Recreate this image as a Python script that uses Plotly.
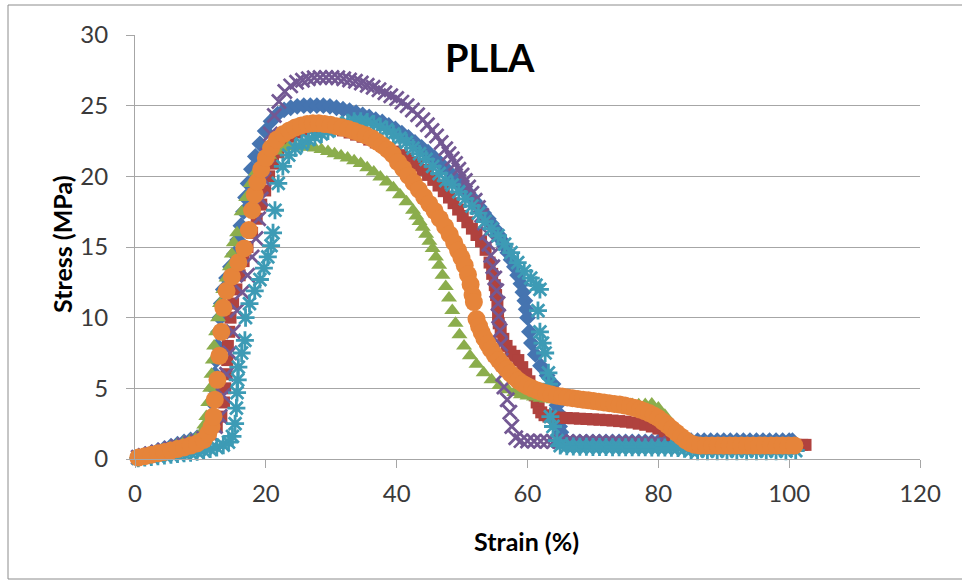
import plotly.graph_objects as go

# ---------------- data ----------------
blue_x = [-0.3, 0.5, 1.5, 2.5, 3.5, 4.5, 5.5, 6.5, 7.5, 8.5, 9.5, 10.3, 11.0,
          11.5, 11.8, 12.0, 12.2, 12.4, 12.6, 12.8, 13.0, 13.2, 13.5,
          14.0, 14.6, 15.2, 15.7, 16.2, 16.6, 16.9, 17.3, 17.8, 18.4,
          19.1, 19.9, 20.8, 21.8,
          22.8, 23.8, 24.8, 25.8, 26.8, 27.8, 28.8, 29.8, 30.8, 31.8,
          32.8, 33.8, 34.8, 35.8, 36.8, 37.8,
          38.8, 39.8, 40.8, 41.8, 42.8, 43.8, 44.8, 45.8, 46.8, 47.8, 48.8, 49.8,
          50.5, 51.2, 51.9, 52.6, 53.3, 54.0,
          54.5, 55.0, 55.5, 56.0, 56.5, 57.0, 57.5, 58.0, 58.5, 59.0,
          59.3, 59.6, 59.8, 60.0, 60.3, 60.6, 61.2, 62.0, 63.0, 63.9,
          64.1, 64.3, 64.5, 64.6, 64.8, 64.9, 65.1, 65.3,
          66, 67, 68, 69, 70, 71, 72, 73, 74, 75, 76, 77, 78, 79, 80, 81, 82, 83, 84, 85,
          86, 87, 88, 89, 90, 91, 92, 93, 94, 95, 96, 97, 98, 99, 100, 100.5]
blue_y = [0.0, 0.15, 0.3, 0.45, 0.6, 0.75, 0.9, 1.05, 1.2, 1.35, 1.5, 1.7, 2.2,
          3, 4, 5, 6, 7, 8, 9, 10, 11, 12,
          12.8, 13.6, 14.5, 15.5, 16.5, 17.5, 18.5, 19.5, 20.5, 21.4,
          22.3, 23.2, 23.9, 24.4,
          24.7, 24.85, 24.95, 25.0, 25.0, 25.0, 25.0, 24.95, 24.85, 24.75,
          24.65, 24.5, 24.35, 24.2, 24.0, 23.85,
          23.6, 23.35, 23.05, 22.75, 22.4, 22.05, 21.7, 21.3, 20.85, 20.4, 19.9, 19.4,
          19.05, 18.65, 18.25, 17.85, 17.4, 17.0,
          16.65, 16.3, 15.9, 15.5, 15.05, 14.6, 14.1, 13.6, 13.0, 12.4,
          11.8, 11.2, 10.6, 10.0, 9.0, 8.2, 7.4, 6.6, 5.9, 5.3,
          4.8, 4.3, 3.8, 3.3, 2.8, 2.3, 1.9, 1.5,
          1.2, 1.2, 1.2, 1.2, 1.2, 1.2, 1.2, 1.2, 1.2, 1.2, 1.2, 1.2, 1.2, 1.2, 1.2, 1.2, 1.2, 1.2, 1.25, 1.3,
          1.3, 1.3, 1.3, 1.3, 1.3, 1.3, 1.3, 1.3, 1.3, 1.3, 1.3, 1.3, 1.3, 1.3, 1.3, 1.3]

red_x = [-0.3, 0.5, 1.5, 2.5, 3.5, 4.5, 5.5, 6.5, 7.5, 8.5, 9.5, 10.5, 11.5, 12.5,
         13.2, 13.6, 13.8, 14.0, 14.1, 14.2, 14.4, 14.6, 15.0, 15.5,
         16.0, 16.6, 17.2, 17.9, 18.6, 19.3, 19.9, 20.5, 21.1, 21.9,
         22.8, 23.8, 24.8, 25.8, 26.8,
         27.8, 28.8, 29.8, 30.8, 31.8, 32.8, 33.8, 34.8, 35.8, 36.8, 37.8, 38.8, 39.8, 40.8,
         41.6, 42.4, 43.2, 44.0, 44.8, 45.6, 46.4, 47.2, 48.0,
         48.7, 49.4, 50.1, 50.8, 51.5, 52.2, 52.9, 53.6,
         54.2, 54.6, 55.0, 55.2, 55.4, 55.5, 55.6, 55.9, 56.3, 56.8,
         57.4, 58.0, 58.6, 59.2, 59.8, 60.3, 60.7, 61.1, 61.4, 61.7,
         62.1, 62.6, 63.2,
         64, 65, 66, 67, 68, 69, 70, 71, 72, 73, 74, 75, 76, 77, 78, 79, 80, 81, 82, 83, 84, 85,
         86, 87, 88, 89, 90, 91, 92, 93, 94, 95, 96, 97, 98, 99, 100, 101, 102, 102.5]
red_y = [0.0, 0.12, 0.25, 0.38, 0.5, 0.62, 0.75, 0.88, 1.0, 1.12, 1.25, 1.45, 1.75, 2.3,
         3.0, 4.0, 5.0, 6.0, 7.0, 8.0, 9.0, 10.0, 11.0, 12.0,
         13.0, 14.0, 15.0, 16.0, 17.0, 18.0, 19.0, 20.0, 20.9, 21.7,
         22.3, 22.8, 23.1, 23.3, 23.45,
         23.5, 23.5, 23.45, 23.35, 23.25, 23.1, 22.95, 22.8, 22.6, 22.4, 22.2, 22.0, 21.75, 21.5,
         21.25, 21.0, 20.75, 20.45, 20.1, 19.75, 19.35, 18.95, 18.5,
         18.1, 17.65, 17.2, 16.75, 16.3, 15.85, 15.4, 14.8,
         13.9, 13.1, 12.3, 11.6, 10.9, 10.2, 9.6, 9.0, 8.5, 8.0,
         7.6, 7.3, 7.0, 6.5, 6.0, 5.5, 5.0, 4.5, 4.0, 3.6,
         3.3, 3.1, 3.0,
         2.95, 2.93, 2.9, 2.88, 2.85, 2.83, 2.8, 2.78, 2.75, 2.72, 2.68, 2.64, 2.58, 2.5, 2.42, 2.3, 2.15, 1.95, 1.7, 1.45, 1.2, 1.05,
         1.0, 1.0, 1.0, 1.0, 1.0, 1.0, 1.0, 1.0, 1.0, 1.0, 1.0, 1.0, 1.0, 1.0, 1.0, 1.0, 1.0, 1.0]

green_x = [-0.3, 0.5, 1.5, 2.5, 3.5, 4.5, 5.5, 6.5, 7.5, 8.5, 9.5, 10.2, 10.6,
           10.9, 11.2, 11.5, 11.7, 11.9, 12.1, 12.4, 12.7, 13.0, 13.5,
           14.0, 14.5, 14.8, 15.1, 15.6, 16.3, 17.0, 17.7, 18.5, 19.5,
           20.5, 21.5, 22.5, 23.5, 24.5, 25.5, 26.5, 27.5, 28.5, 29.5,
           30.5, 31.5, 32.5, 33.5, 34.5, 35.5, 36.5, 37.5, 38.5, 39.5,
           40.5, 41.5, 42.5, 43.0, 43.5, 44.0, 44.5, 45.0, 45.5, 46.0,
           46.5, 47.0, 47.5, 48.0, 48.5, 49.0, 49.6, 50.3, 51.2, 52.2,
           53.3, 54.5, 55.7, 57.0,
           58, 59, 60, 61, 62, 63, 64, 65, 66, 67, 68, 69, 70, 71, 72, 73, 74, 75, 76, 77,
           78, 79, 80, 81, 82, 83, 84, 85]
green_y = [0.0, 0.15, 0.3, 0.45, 0.6, 0.75, 0.9, 1.05, 1.2, 1.35, 1.55, 1.9, 2.4,
           3.0, 4.0, 5.0, 6.0, 7.0, 8.0, 9.0, 10.0, 11.0, 12.0,
           12.8, 13.6, 14.5, 15.3, 16.0, 17.5, 18.5, 19.5, 20.3, 21.0,
           21.5, 21.8, 22.0, 22.1, 22.1, 22.1, 22.05, 22.0, 21.9, 21.75,
           21.6, 21.45, 21.3, 21.1, 20.9, 20.6, 20.3, 19.95, 19.6, 19.2,
           18.7, 18.2, 17.6, 17.2, 16.8, 16.4, 15.9, 15.4, 14.9, 14.3,
           13.7, 13.0, 12.2, 11.4, 10.5, 9.6, 8.8, 8.0, 7.3, 6.7,
           6.1, 5.6, 5.2, 4.9,
           4.7, 4.55, 4.45, 4.38, 4.3, 4.25, 4.2, 4.15, 4.1, 4.07, 4.04, 4.0, 3.97, 3.94, 3.92, 3.9, 3.9, 3.88, 3.86, 3.84,
           3.85, 3.9, 3.6, 3.1, 2.5, 1.8, 1.2, 1.0]

purple_x = [-0.3, 0.5, 1.5, 2.5, 3.5, 4.5, 5.5, 6.5, 7.5, 8.5, 9.5, 10.5, 11.5, 12.3,
            13.0, 13.5, 14.0, 14.5, 15.0, 15.6, 16.4, 17.2, 17.9, 18.5,
            18.9, 19.3, 19.7, 20.2, 20.7, 21.3,
            22.0, 22.9, 23.8, 24.7, 25.6, 26.5, 27.4, 28.3, 29.2, 30.1,
            31.0, 31.9, 32.8, 33.7, 34.6, 35.5, 36.4, 37.3, 38.2, 39.1,
            40.0, 40.8, 41.6, 42.4, 43.2, 44.0, 44.7, 45.4, 46.1, 46.8,
            47.5, 48.0, 48.5, 49.0, 49.5, 50.0, 50.5, 51.0, 51.5, 52.0,
            52.5, 53.0, 53.4, 53.8, 54.1, 54.4, 54.7, 55.0, 55.3, 55.5,
            55.6, 55.8, 55.9, 56.0, 56.2, 56.4, 56.9, 57.3, 57.6, 58.2,
            59, 60, 61, 62, 63, 64, 65, 66, 67, 68, 69, 70, 71, 72, 73, 74, 75, 76, 77, 78, 79, 80]
purple_y = [0.0, 0.12, 0.25, 0.38, 0.5, 0.62, 0.75, 0.88, 1.0, 1.12, 1.25, 1.45, 1.8, 2.3,
            3.0, 4.5, 6.0, 7.5, 9.0, 10.5, 11.8, 13.0, 14.3, 15.6,
            17.0, 18.4, 19.8, 21.5, 23.0, 24.3,
            25.3, 26.0, 26.4, 26.65, 26.8, 26.9, 26.97, 27.0, 27.0, 27.0,
            26.97, 26.9, 26.82, 26.72, 26.6, 26.45, 26.3, 26.12, 25.92, 25.7,
            25.5, 25.25, 25.0, 24.7, 24.35, 24.0, 23.65, 23.25, 22.85, 22.4,
            21.95, 21.6, 21.25, 20.9, 20.5, 20.1, 19.7, 19.25, 18.8, 18.3,
            17.8, 17.25, 16.7, 16.0, 15.2, 14.4, 13.6, 12.8, 11.9, 11.0,
            10.1, 9.1, 8.1, 7.0, 6.0, 5.1, 4.2, 3.3, 2.3, 1.5,
            1.3, 1.28, 1.26, 1.25, 1.25, 1.24, 1.23, 1.22, 1.21, 1.2, 1.2, 1.2, 1.19, 1.18, 1.17, 1.16,
            1.15, 1.15, 1.14, 1.13, 1.12, 1.1]

teal_x = [-0.3, 0.5, 1.5, 2.5, 3.5, 4.5, 5.5, 6.5, 7.5, 8.5, 9.5, 10.5, 11.5, 12.5, 13.5, 14.3, 14.9,
          15.3, 15.5, 15.6, 15.7, 15.8, 16.3, 16.8, 16.9, 17.5, 18.3,
          19.1, 19.7, 20.3, 20.8, 21.1, 21.4, 21.9, 22.6, 23.5, 24.5,
          25.5, 26.5, 27.5, 28.5, 29.5, 30.5, 31.5, 32.5, 33.5, 34.5,
          35.5, 36.5, 37.5, 38.5, 39.5, 40.5, 41.5, 42.5, 43.5, 44.5,
          45.5, 46.5, 47.5, 48.5, 49.5, 50.5, 51.5, 52.5, 53.5, 54.5,
          55.5, 56.5, 57.5, 58.5, 59.5, 60.5, 61.3, 61.9, 61.6, 61.9,
          62.3, 62.7, 63.2, 63.3, 63.4, 63.5, 63.9, 64.5,
          65, 66, 67, 68, 69, 70, 71, 72, 73, 74, 75, 76, 77, 78, 79, 80, 81, 82, 83, 84, 85,
          86, 87.5, 89, 90.5, 92, 93.5, 95, 96.5, 98, 99.5, 101]
teal_y = [0.0, 0.05, 0.1, 0.15, 0.2, 0.25, 0.3, 0.35, 0.4, 0.45, 0.52, 0.6, 0.7, 0.82, 0.98, 1.2, 1.6,
          2.5, 3.6, 4.7, 5.6, 6.5, 7.5, 8.4, 10.0, 11.0, 11.9,
          12.7, 13.5, 14.3, 15.1, 16.0, 17.6, 19.5, 20.7, 21.5, 22.0,
          22.3, 22.6, 22.8, 23.0, 23.2, 23.4, 23.6, 23.8, 23.9, 23.9,
          23.85, 23.7, 23.5, 23.3, 23.0, 22.7, 22.4, 22.0, 21.6, 21.2,
          20.7, 20.2, 19.7, 19.4, 18.9, 18.4, 17.9, 17.4, 16.8, 16.3,
          15.8, 15.2, 14.6, 13.9, 13.3, 12.8, 12.3, 12.0, 10.5, 9.0,
          8.2, 7.5, 6.1, 5.3, 4.6, 3.0, 2.3, 1.3,
          0.95, 0.9, 0.88, 0.87, 0.86, 0.85, 0.85, 0.85, 0.84, 0.84, 0.84, 0.83, 0.83, 0.83, 0.82, 0.82,
          0.81, 0.8, 0.78, 0.72, 0.62,
          0.55, 0.55, 0.55, 0.55, 0.55, 0.55, 0.55, 0.55, 0.55, 0.55, 0.6]

orange_x = [-0.5, 0.5, 1.5, 2.5, 3.5, 4.5, 5.5, 6.5, 7.5, 8.5, 9.5, 10.5, 11.2,
            11.7, 12.0, 12.2, 12.6, 12.9, 13.2, 13.5, 14.0, 14.8, 15.8,
            16.7, 17.4, 17.9, 18.3, 18.7, 19.3, 20.0, 20.8, 21.7,
            22.7, 23.6, 24.5, 25.4, 26.3, 27.2, 28.1, 29.0, 29.9, 30.8,
            31.7, 32.6, 33.5, 34.4, 35.3, 36.2, 37.0, 37.8, 38.6, 39.4,
            40.2, 41.0, 41.8, 42.6, 43.4, 44.2, 45.0, 45.8, 46.6, 47.4,
            48.1, 48.8, 49.4, 49.9, 50.4, 50.9, 51.3, 51.6, 51.8,
            52.2, 52.6, 53.0, 53.4, 53.9, 54.4, 55.0, 55.6, 56.2, 56.8,
            57.4, 58.0, 58.6, 59.3, 60.0, 60.7, 61.4, 62.1, 62.9, 63.7,
            64.5, 65.3, 66.1, 66.9, 67.7, 68.5, 69.3, 70.1, 70.9, 71.7,
            72.5, 73.3, 74.1, 74.9, 75.7, 76.5, 77.2, 77.9, 78.6, 79.3,
            80.0, 80.7, 81.4, 82.1, 82.8, 83.5, 84.2, 84.9, 85.6, 86.4,
            87.3, 88.2, 89.1, 90.0, 90.9, 91.8, 92.7, 93.6, 94.5, 95.4,
            96.3, 97.2, 98.1, 99.0, 99.9, 100.8]
orange_y = [0.0, 0.1, 0.2, 0.3, 0.4, 0.5, 0.6, 0.7, 0.82, 0.95, 1.1, 1.35, 1.8,
            2.3, 3.0, 4.2, 5.6, 7.3, 9.0, 10.7, 11.9, 12.9, 13.9,
            14.9, 16.2, 17.6, 18.7, 19.6, 20.5, 21.3, 22.0, 22.6,
            23.0, 23.25, 23.45, 23.6, 23.7, 23.75, 23.75, 23.7, 23.65, 23.55,
            23.45, 23.35, 23.2, 23.05, 22.9, 22.7, 22.45, 22.2, 21.9, 21.55,
            21.0, 20.55, 20.05, 19.55, 19.05, 18.55, 18.05, 17.55, 17.0, 16.45,
            15.9, 15.3, 14.75, 14.25, 13.7, 13.05, 12.35, 11.6, 11.1,
            9.9, 9.4, 8.95, 8.55, 8.15, 7.75, 7.35, 7.0, 6.65, 6.35,
            6.05, 5.8, 5.55, 5.33, 5.15, 5.0, 4.87, 4.75, 4.65, 4.56,
            4.48, 4.42, 4.36, 4.3, 4.25, 4.2, 4.15, 4.1, 4.05, 4.0,
            3.95, 3.9, 3.85, 3.78, 3.7, 3.6, 3.5, 3.38, 3.25, 3.08,
            2.9, 2.65, 2.4, 2.12, 1.85, 1.58, 1.32, 1.12, 1.0, 0.95,
            0.95, 0.95, 0.95, 0.95, 0.95, 0.95, 0.95, 0.95, 0.95, 0.95,
            0.95, 0.95, 0.95, 0.95, 0.95, 0.95]

x_ticks = [0, 20, 40, 60, 80, 100, 120]
y_ticks = [0, 5, 10, 15, 20, 25, 30]

# ---------------- styling ----------------
FONT = "Lato"
GRID = "#a6a6a6"
TXT = "#3a3a3a"

series = [
    (blue_x, blue_y, "#4574b0", "diamond", 13, False),
    (red_x, red_y, "#b0423e", "square", 12, False),
    (green_x, green_y, "#8bad4c", "triangle-up", 14, False),
    (purple_x, purple_y, "#735893", "x-thin-open", 14, True),
    (teal_x, teal_y, "#3d9bb5", "asterisk-open", 15, True),
    (orange_x, orange_y, "#e6843a", "circle", 18, False),
]

fig = go.Figure()
for xs, ys, col, sym, sz, openm in series:
    if openm:
        mk = dict(symbol=sym, size=sz, color=col, line=dict(color=col, width=2.8))
    else:
        mk = dict(symbol=sym, size=sz, color=col, line=dict(width=0))
    fig.add_trace(go.Scatter(x=xs, y=ys, mode="markers", marker=mk,
                             cliponaxis=False, showlegend=False, hoverinfo="skip"))

L, R, T, B = 135, 42, 35, 123
W, H = 962, 582
pw, ph = W - L - R, H - T - B


def px_x(p):
    return (p - L) / pw


def px_y(p):
    return (H - B - p) / ph


fig.update_layout(
    width=W, height=H,
    margin=dict(l=L, r=R, t=T, b=B, pad=0),
    paper_bgcolor="white", plot_bgcolor="white",
    font=dict(family=FONT, color=TXT),
    xaxis=dict(range=[0, 120], tickvals=x_ticks, ticks="outside", ticklen=8,
               tickcolor=GRID, showline=True, linecolor=GRID, linewidth=1,
               showgrid=False, zeroline=False,
               tickfont=dict(size=24, color=TXT, family=FONT), ticklabelstandoff=5),
    yaxis=dict(range=[0, 30], tickvals=y_ticks, ticks="outside", ticklen=8,
               tickcolor=GRID, showline=True, linecolor=GRID, linewidth=1,
               showgrid=True, gridcolor=GRID, gridwidth=1, zeroline=False,
               tickfont=dict(size=24, color=TXT, family=FONT), ticklabelstandoff=13),
    annotations=[
        dict(text="<b>PLLA</b>", x=px_x(490), y=px_y(57), xref="paper", yref="paper",
             showarrow=False, xanchor="center", yanchor="middle",
             font=dict(size=38, color="black", family=FONT)),
        dict(text="<b>Strain (%)</b>", x=px_x(526), y=px_y(541), xref="paper", yref="paper",
             showarrow=False, xanchor="center", yanchor="middle",
             font=dict(size=25, color="black", family=FONT)),
        dict(text="<b>Stress (MPa)</b>", x=px_x(62), y=px_y(244), xref="paper", yref="paper",
             showarrow=False, xanchor="center", yanchor="middle", textangle=-90,
             font=dict(size=25, color="black", family=FONT)),
    ],
    shapes=[
        dict(type="rect", xref="paper", yref="paper",
             x0=px_x(8), x1=px_x(975), y0=px_y(579), y1=px_y(5),
             line=dict(color="#8c8c8c", width=1), fillcolor="rgba(0,0,0,0)", layer="below"),
    ],
)

fig.write_html("out.html")
